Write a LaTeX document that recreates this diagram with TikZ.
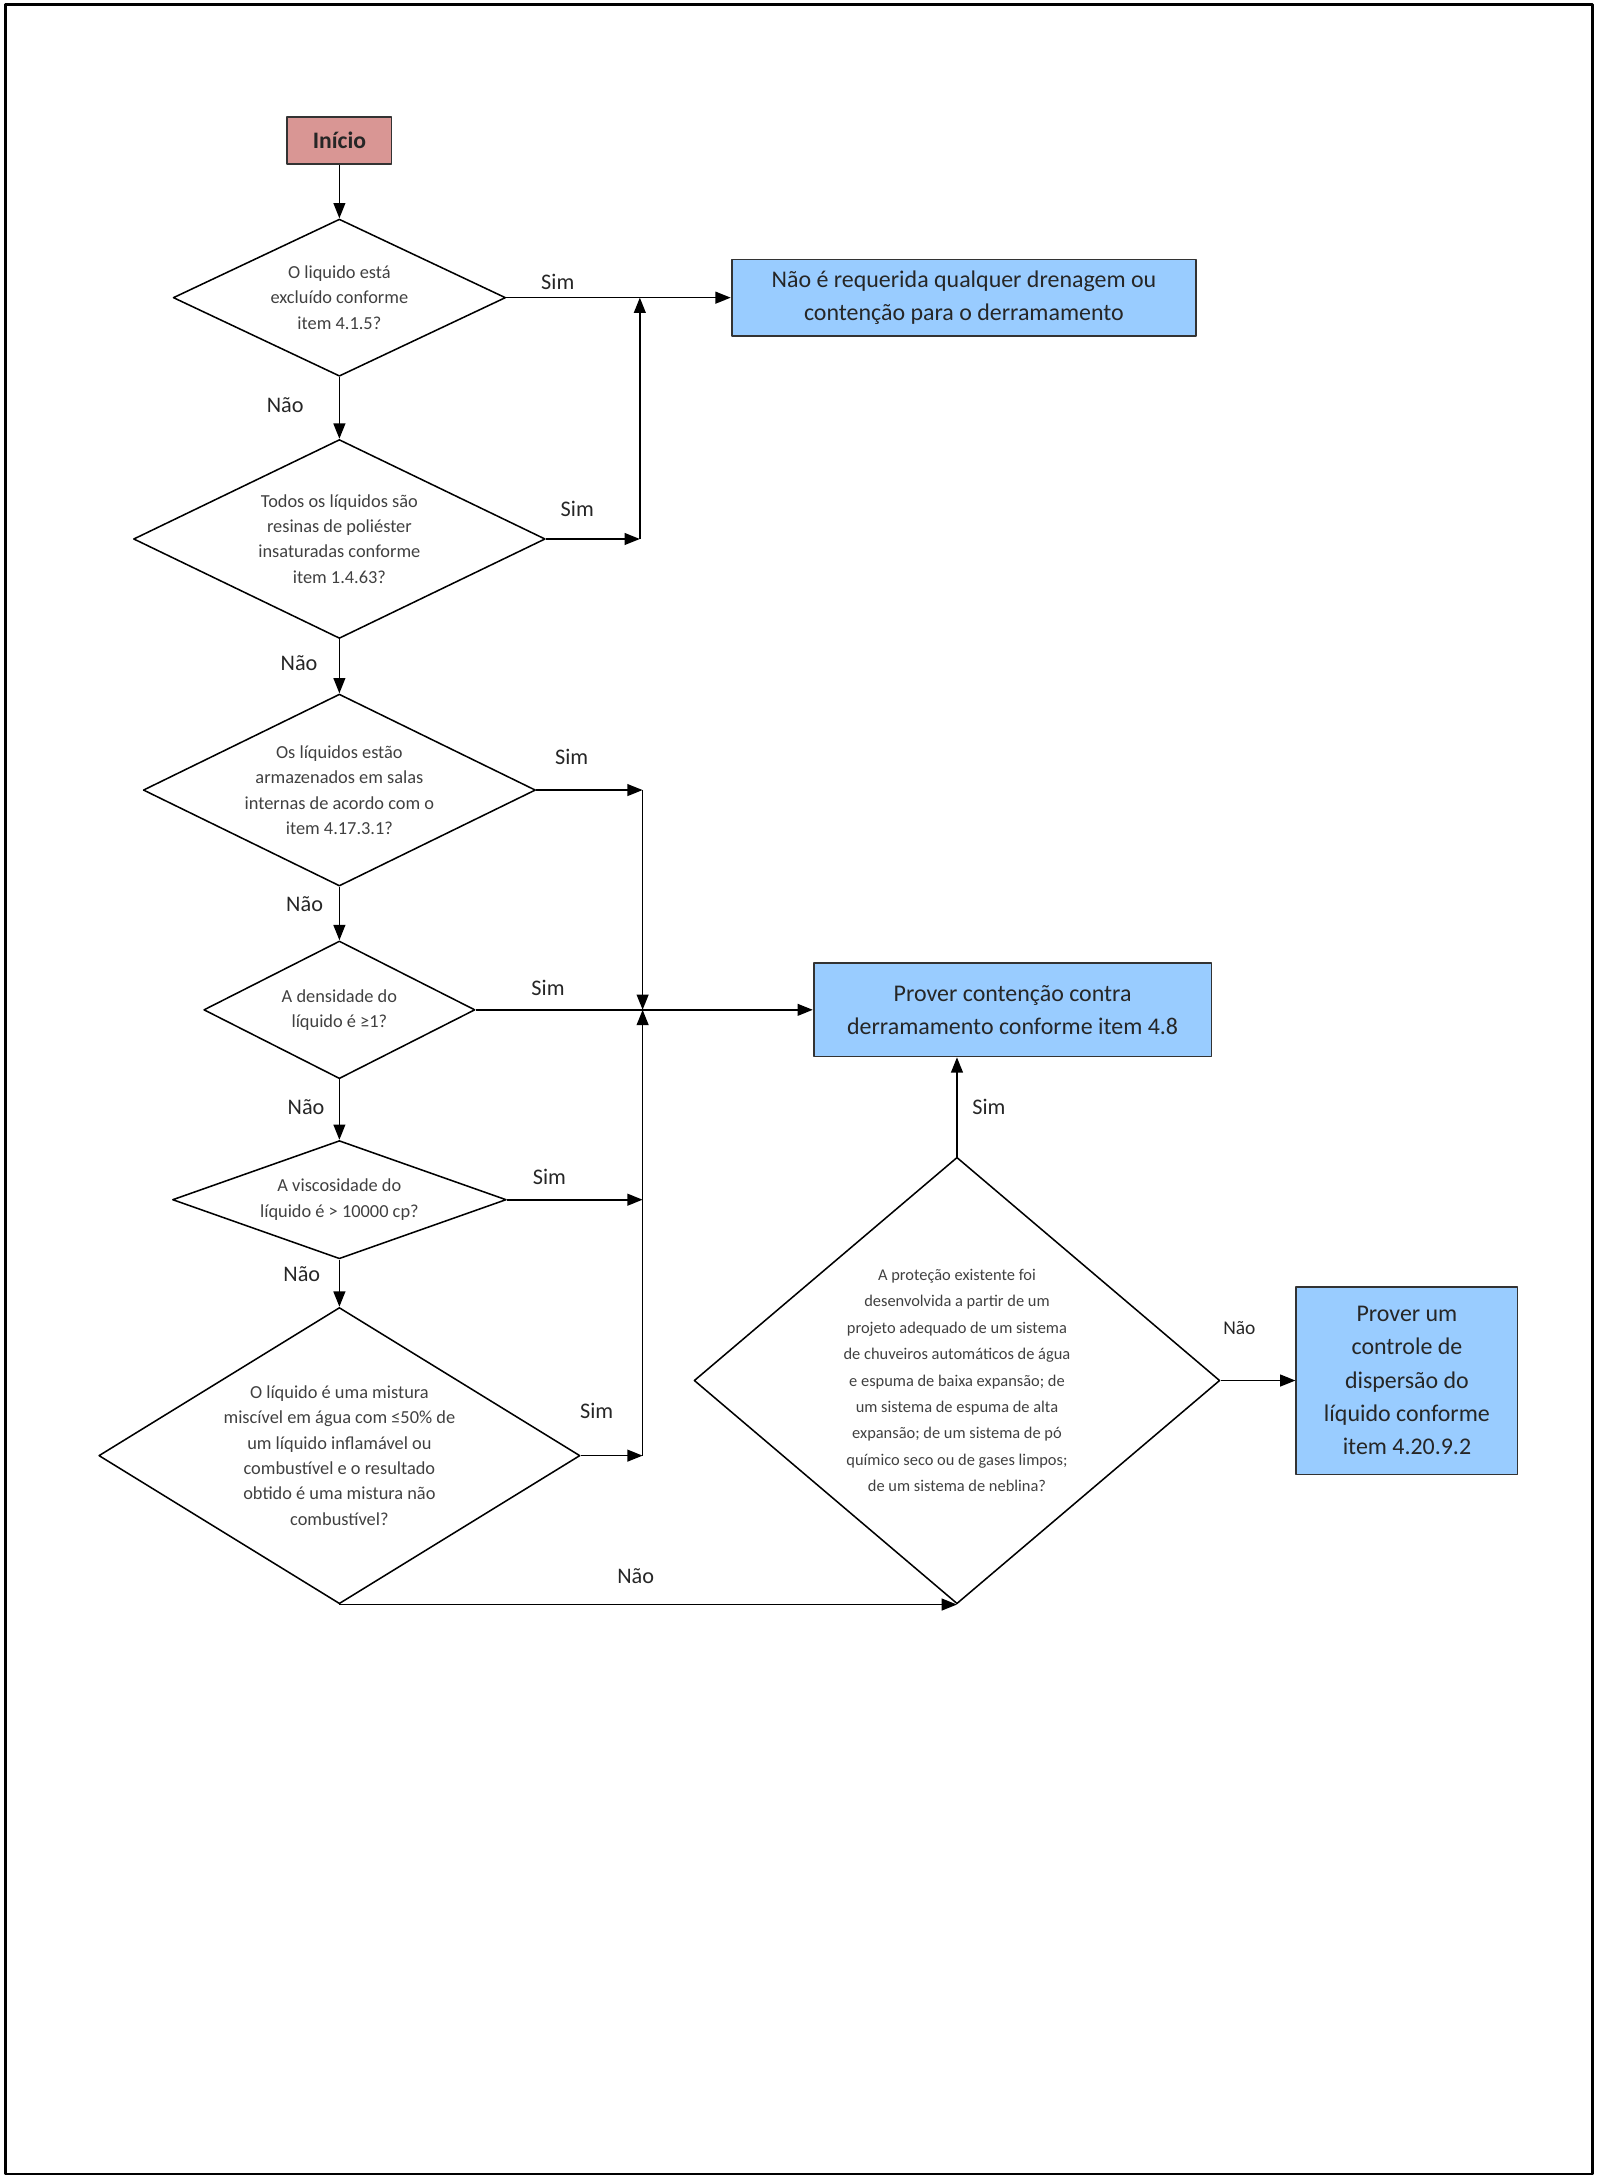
\documentclass[tikz,border=0pt]{standalone}
\usepackage{fontspec}
\setmainfont{Carlito}
\usetikzlibrary{shapes.geometric,arrows.meta}
\definecolor{inicioRed}{RGB}{217,150,148}
\definecolor{caixaAzul}{RGB}{153,204,255}
\definecolor{textoCinza}{RGB}{64,64,64}
\begin{document}
\begin{tikzpicture}[x=1pt, y=-1pt, line join=round, >={Triangle[length=11pt,width=8.5pt]},
		pergunta/.style={draw, diamond, inner sep=0pt, align=center, line width=1.1pt, text=textoCinza, font=\fontsize{13.2}{18.2}\selectfont},
		saida/.style={draw=black!80, fill=caixaAzul, line width=1.3pt, align=center, text=black!85, font=\fontsize{17.2}{24}\selectfont},
		rotulo/.style={text=black!85, font=\fontsize{16}{19}\selectfont},
		seta/.style={->, line width=1.2pt}]
	\useasboundingbox (0,0) rectangle (1150,1568);
	\draw[line width=2pt] (4,3) rectangle (1145,1563);
	% inicio e perguntas da coluna principal
	\node[draw=black!80, fill=inicioRed, line width=1.3pt, minimum width=75pt, minimum height=34pt, text=black!85, font=\bfseries\fontsize{17}{20}\selectfont] (inicio) at (244,101) {Início};
	\node[pergunta, aspect=2.12, minimum width=239pt, minimum height=113pt] (q1) at (244,214) {O liquido está\\excluído conforme\\item 4.1.5?};
	\node[pergunta, aspect=2.07, minimum width=296pt, minimum height=143pt] (q2) at (244,387.5) {Todos os líquidos são\\resinas de poliéster\\insaturadas conforme\\item 1.4.63?};
	\node[pergunta, aspect=2.04, minimum width=282pt, minimum height=138pt] (q3) at (244,568) {Os líquidos estão\\armazenados em salas\\internas de acordo com o\\item 4.17.3.1?};
	\node[pergunta, aspect=1.97, minimum width=195pt, minimum height=99pt] (q4) at (244,726) {A densidade do\\líquido é ≥1?};
	\node[pergunta, aspect=2.82, minimum width=240pt, minimum height=85pt] (q5) at (244,862.5) {A viscosidade do\\líquido é > 10000 cp?};
	\node[pergunta, aspect=1.62, minimum width=346pt, minimum height=213pt] (q6) at (244,1046.5) {O líquido é uma mistura\\miscível em água com ≤50\% de\\um líquido inflamável ou\\combustível e o resultado\\obtido é uma mistura não\\combustível?};
	\node[pergunta, aspect=1.18, minimum width=378pt, minimum height=321pt, font=\fontsize{11.8}{19}\selectfont] (q7) at (688,992.5) {A proteção existente foi\\desenvolvida a partir de um\\projeto adequado de um sistema\\de chuveiros automáticos de água\\e espuma de baixa expansão; de\\um sistema de espuma de alta\\expansão; de um sistema de pó\\químico seco ou de gases limpos;\\de um sistema de neblina?};
	% resultados
	\node[saida, minimum width=334pt, minimum height=55pt] (r1) at (693,214) {Não é requerida qualquer drenagem ou\\contenção para o derramamento};
	\node[saida, minimum width=286pt, minimum height=67pt] (r2) at (728,726) {Prover contenção contra\\derramamento conforme item 4.8};
	\node[saida, minimum width=159pt, minimum height=135pt] (r3) at (1011.5,992.5) {Prover um\\controle de\\dispersão do\\líquido conforme\\item 4.20.9.2};
	% pontos de juncao
	\coordinate (ja) at (460,387.5);
	\coordinate (jb) at (462,568);
	\coordinate (jc) at (462,862.5);
	\coordinate (jd) at (462,1046.5);
	% ligacoes
	\draw[seta] (inicio) -- (q1);
	\draw[seta] (q1.east) -- (r1.west);
	\draw[seta] (q1) -- (q2);
	\draw[seta] (q2.east) -- (ja);
	\draw[seta] (ja) -- (ja |- q1.east);
	\draw[seta] (q2) -- (q3);
	\draw[seta] (q3.east) -- (jb);
	\draw[seta] (jb) -- (jb |- q4.east);
	\draw[seta] (q3) -- (q4);
	\draw[seta] (q4.east) -- (r2.west);
	\draw[seta] (q4) -- (q5);
	\draw[seta] (q5.east) -- (jc);
	\draw[seta] (q5) -- (q6);
	\draw[seta] (q6.east) -- (jd);
	\draw[seta] (jd) -- (jd |- q4.east);
	\draw[seta] (q6.south) -- (q7.south);
	\draw[seta] (q7.north) -- (q7.north |- r2.south);
	\draw[seta] (q7.east) -- (r3.west);
	% rotulos
	\node[rotulo] (sim1) at (401,203) {Sim};
	\node[rotulo] (nao1) at (205,291) {Não};
	\node[rotulo] (sim2) at (415,366) {Sim};
	\node[rotulo] (nao2) at (215,477) {Não};
	\node[rotulo] (sim3) at (411,544) {Sim};
	\node[rotulo] (nao3) at (219,650) {Não};
	\node[rotulo] (sim4) at (394,710) {Sim};
	\node[rotulo] (nao4) at (220,796) {Não};
	\node[rotulo] (sim5) at (395,846) {Sim};
	\node[rotulo] (nao5) at (217,916) {Não};
	\node[rotulo] (sim6) at (429,1014) {Sim};
	\node[rotulo] (nao6) at (457,1133) {Não};
	\node[rotulo] (sim7) at (711,796) {Sim};
	\node[rotulo, font=\fontsize{14}{17}\selectfont] (nao7) at (891,955) {Não};
\end{tikzpicture}
\end{document}
